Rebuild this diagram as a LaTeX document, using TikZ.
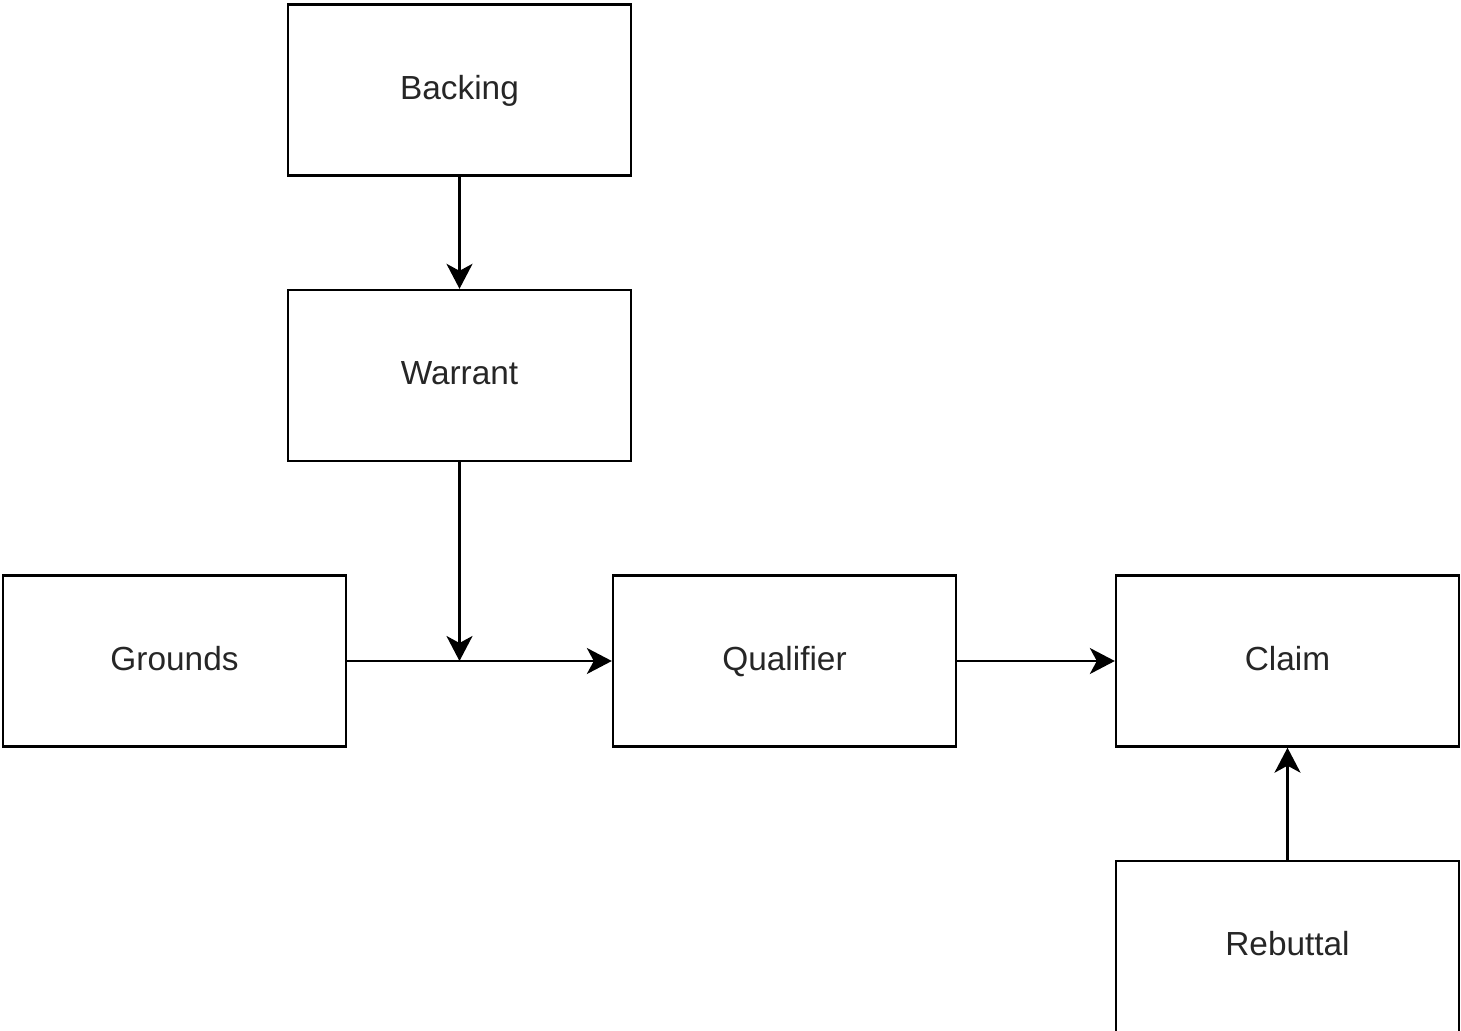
\documentclass[tikz,border=0pt]{standalone}
\usepackage{fontspec}
\setmainfont{Liberation Sans}
\usetikzlibrary{arrows.meta}

\begin{document}
\begin{tikzpicture}[x=0.02cm,y=-0.02cm,
  part/.style={draw, line width=0.048cm, minimum width=6.86cm, minimum height=3.42cm,
    inner sep=0pt, text height=13.6pt, text depth=2.8pt,
    font=\fontsize{19}{23}\selectfont, text=black!85},
  link/.style={line width=0.048cm, -{Stealth[length=0.5cm, width=0.52cm, inset=0.14cm]}}]
\useasboundingbox (0,0) rectangle (1461,1031);

\node[part] (backing) at (459.5,90) {Backing};
\node[part] (warrant) at (459.5,375.5) {Warrant};
\node[part] (grounds) at (174.5,661) {Grounds};
\node[part] (qualifier) at (784.5,661) {Qualifier};
\node[part] (claim) at (1287.5,661) {Claim};
\node[part] (rebuttal) at (1287.5,946.5) {Rebuttal};

\coordinate (join) at (459.5,661);

\draw[link] (backing) -- (warrant);
\draw[link] (warrant) -- (join);
\draw[link] (grounds) -- (qualifier);
\draw[link] (qualifier) -- (claim);
\draw[link] (rebuttal) -- (claim);
\end{tikzpicture}
\end{document}
